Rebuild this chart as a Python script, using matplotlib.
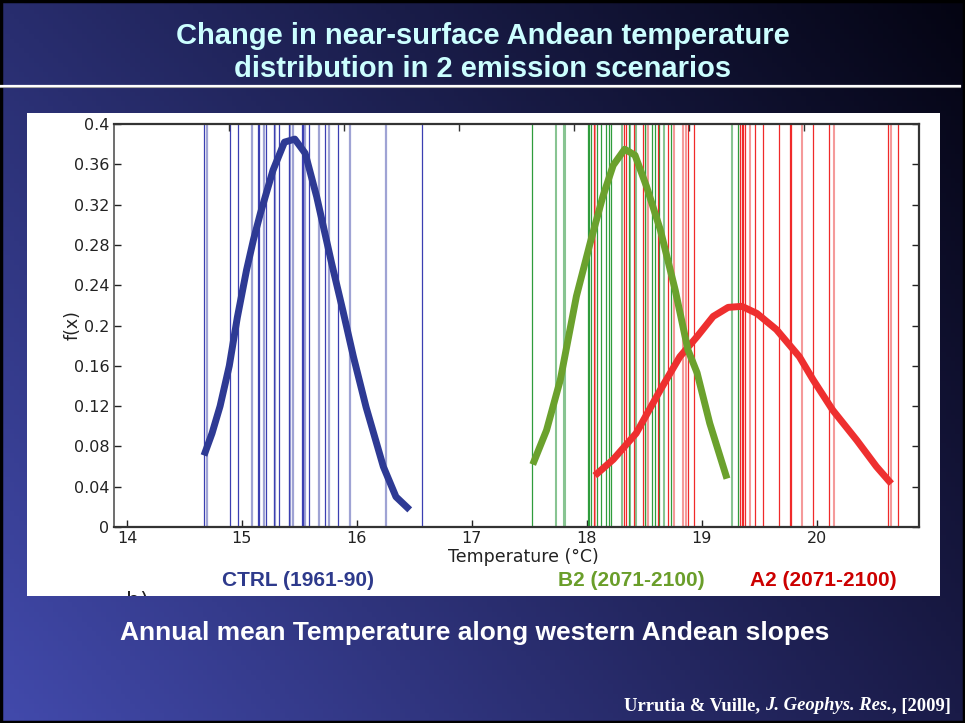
import matplotlib
matplotlib.use("Agg")
import matplotlib.pyplot as plt
import numpy as np
from matplotlib.patches import Rectangle

# yearly mean temperatures (one vertical line per year), strong and faint strokes
ctrl_years = [14.67, 14.90, 14.97, 15.14, 15.15, 15.21, 15.28, 15.32, 15.41,
              15.52, 15.53, 15.58, 15.72, 15.84, 16.57]
ctrl_faint = [14.70, 15.09, 15.19, 15.29, 15.42, 15.44, 15.55, 15.67, 15.76,
              15.94, 16.25]
b2_years = [17.52, 18.01, 18.02, 18.04, 18.09, 18.12, 18.17, 18.19, 18.21,
            18.37, 18.51, 18.52, 18.57, 18.59, 18.63, 18.73, 19.32]
b2_faint = [17.73, 17.80, 17.81, 18.31, 18.38, 18.43, 18.67, 19.26]
a2_years = [18.06, 18.32, 18.34, 18.41, 18.49, 18.62, 18.71, 18.88, 18.93,
            19.33, 19.35, 19.36, 19.38, 19.46, 19.53, 19.67, 19.77, 19.78,
            19.97, 20.11, 20.62, 20.71]
a2_faint = [18.07, 18.53, 18.76, 18.84, 18.86, 19.42, 19.87, 20.15, 20.65]

# fitted distributions
ctrl_t = [14.67, 14.74, 14.81, 14.89, 14.96, 15.04, 15.10, 15.16, 15.27, 15.37,
          15.46, 15.55, 15.65, 15.78, 15.88, 15.97, 16.08, 16.23, 16.34, 16.46]
ctrl_f = [0.071, 0.093, 0.120, 0.160, 0.208, 0.255, 0.285, 0.311, 0.354, 0.382,
          0.385, 0.371, 0.328, 0.262, 0.214, 0.169, 0.119, 0.060, 0.030, 0.017]
b2_t = [17.53, 17.65, 17.77, 17.91, 18.03, 18.14, 18.23, 18.33, 18.42, 18.52,
        18.64, 18.77, 18.88, 18.96, 19.07, 19.22]
b2_f = [0.062, 0.096, 0.146, 0.229, 0.282, 0.328, 0.359, 0.375, 0.369, 0.338,
        0.295, 0.235, 0.176, 0.153, 0.103, 0.048]
a2_t = [18.07, 18.23, 18.43, 18.64, 18.81, 18.96, 19.10, 19.23, 19.35, 19.48,
        19.65, 19.85, 19.97, 20.14, 20.35, 20.52, 20.65]
a2_f = [0.051, 0.067, 0.093, 0.136, 0.169, 0.189, 0.209, 0.218, 0.219, 0.212,
        0.196, 0.169, 0.146, 0.116, 0.086, 0.060, 0.043]

xticks = [14, 15, 16, 17, 18, 19, 20]
top_ticks = [14.89, 15.89, 16.89, 17.89, 18.89, 19.89]
yticks = [0, 0.04, 0.08, 0.12, 0.16, 0.2, 0.24, 0.28, 0.32, 0.36, 0.4]
ylabels = ["0", "0.04", "0.08", "0.12", "0.16", "0.2", "0.24", "0.28", "0.32", "0.36", "0.4"]

SANS = ["Liberation Sans", "DejaVu Sans"]
SERIF = ["Liberation Serif", "DejaVu Serif"]

fig = plt.figure(figsize=(9.65, 7.23), dpi=100)

# slide background
bg = fig.add_axes([0, 0, 1, 1])
c_tl = np.array([40, 45, 110]) / 255
c_tr = np.array([4, 4, 18]) / 255
c_bl = np.array([66, 74, 172]) / 255
c_br = np.array([26, 27, 72]) / 255
u = np.linspace(0, 1, 200)[None, :, None]
v = np.linspace(0, 1, 150)[:, None, None]
grad = (1 - v) * ((1 - u) * c_tl + u * c_tr) + v * ((1 - u) * c_bl + u * c_br)
bg.imshow(grad, extent=[0, 1, 0, 1], aspect="auto", origin="upper")
bg.set_xlim(0, 1)
bg.set_ylim(0, 1)
bg.axis("off")
bg.add_patch(Rectangle((0.001, 0.001), 0.998, 0.997, fill=False, ec="black", lw=2.5))
bg.plot([0, 0.995], [0.8795, 0.8795], color="#9a9a9a", lw=1.5)
bg.plot([0, 0.995], [0.8815, 0.8815], color="white", lw=1.6)

# white panel holding the figure; the panel label is cut off at its lower edge
panel = fig.add_axes([27 / 965, 1 - 596 / 723, 913 / 965, 483 / 723])
panel.set_facecolor("white")
panel.set_xticks([])
panel.set_yticks([])
for s in panel.spines.values():
    s.set_visible(False)
panel.text((126 - 27) / 913, -(601 - 596) / 483, "b)", transform=panel.transAxes,
           fontsize=16, color="#222222", ha="left", va="center", clip_on=True)

fig.text(0.5, 1 - 36 / 723, "Change in near-surface Andean temperature",
         family=SANS, fontsize=21, weight="bold", color="#ccffff",
         ha="center", va="center")
fig.text(0.5, 1 - 69 / 723, "distribution in 2 emission scenarios",
         family=SANS, fontsize=21, weight="bold", color="#ccffff",
         ha="center", va="center")

ax = fig.add_axes([114 / 965, 1 - 527 / 723, 804.7 / 965, 403 / 723])
ax.set_facecolor("white")

for t in b2_faint:
    ax.axvline(t, color="#88c492", lw=1.5)
for t in b2_years:
    ax.axvline(t, color="#2f9c3c", lw=0.9)
for t in a2_faint:
    ax.axvline(t, color="#f59a9a", lw=1.5)
for t in a2_years:
    ax.axvline(t, color="#f02a2a", lw=0.9)
for t in ctrl_faint:
    ax.axvline(t, color="#9fa3d4", lw=1.6)
for t in ctrl_years:
    ax.axvline(t, color="#3b3fb2", lw=0.9)

ax.plot(ctrl_t, ctrl_f, color="#2e3a94", lw=5, solid_capstyle="butt")
ax.plot(a2_t, a2_f, color="#ee2f2f", lw=5, solid_capstyle="butt")
ax.plot(b2_t, b2_f, color="#6ba12d", lw=5, solid_capstyle="butt")

ax.set_xlim(13.887, 20.888)
ax.set_ylim(0, 0.4)
ax.set_xticks(xticks)
ax.set_xticklabels([str(x) for x in xticks])
ax.set_yticks(yticks)
ax.set_yticklabels(ylabels)
ax.tick_params(direction="in", length=5, width=1, right=True, labelsize=11.5,
               colors="#222222")
ax.tick_params(axis="x", pad=3)
for side in ["top", "right", "bottom"]:
    ax.spines[side].set_linewidth(1.6)
    ax.spines[side].set_color("#333333")
ax.spines["left"].set_linewidth(1.2)
ax.spines["left"].set_color("#555555")

top = ax.twiny()
top.set_xlim(ax.get_xlim())
top.set_xticks(top_ticks)
top.tick_params(direction="in", length=5, width=1, labeltop=False, colors="#333333")
for s in top.spines.values():
    s.set_visible(False)

ax.set_xlabel("Temperature (°C)", fontsize=12.5, color="#222222")
ax.xaxis.set_label_coords((523 - 114) / 804.7, -(557 - 527) / 403)
ax.xaxis.label.set_va("center")
ax.set_ylabel("f(x)", fontsize=12.5, color="#222222")
ax.yaxis.set_label_coords((73 - 114) / 804.7, (527 - 325) / 403)
ax.yaxis.label.set_va("center")

fig.text(298 / 965, 1 - 580 / 723, "CTRL (1961-90)", family=SANS, fontsize=15,
         weight="bold", color="#2e3a8c", ha="center", va="center")
fig.text(631 / 965, 1 - 580 / 723, "B2 (2071-2100)", family=SANS, fontsize=15,
         weight="bold", color="#6a9e2a", ha="center", va="center")
fig.text(823 / 965, 1 - 580 / 723, "A2 (2071-2100)", family=SANS, fontsize=15,
         weight="bold", color="#cc0000", ha="center", va="center")

fig.text(475 / 965, 1 - 633 / 723, "Annual mean Temperature along western Andean slopes",
         family=SANS, fontsize=19, weight="bold", color="white",
         ha="center", va="center")

# citation: plain / italic / plain pieces chained one after the other
cite1 = fig.text(624 / 965, 1 - 706 / 723, "Urrutia & Vuille, ", family=SERIF,
                 fontsize=13.4, weight="bold", color="white", va="center")
cite2 = ax.annotate("J. Geophys. Res.", xy=(1, 0.5), xycoords=cite1, va="center",
                    ha="left", family=SERIF, fontsize=13.4, weight="bold",
                    style="italic", color="white", annotation_clip=False)
ax.annotate(", [2009]", xy=(1, 0.5), xycoords=cite2, va="center",
            ha="left", family=SERIF, fontsize=13.4, weight="bold",
            color="white", annotation_clip=False)

fig.savefig("out.png", dpi=100)
